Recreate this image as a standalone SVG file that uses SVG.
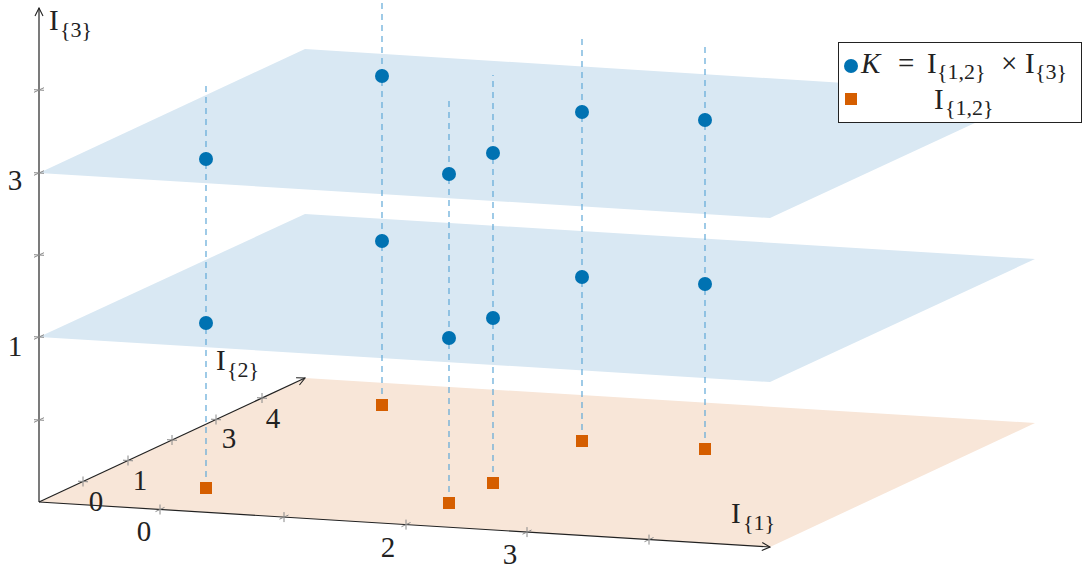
<svg xmlns="http://www.w3.org/2000/svg" width="1083" height="569" viewBox="0 0 1083 569">
<style>
.t{font-family:"Liberation Serif","DejaVu Serif",serif;font-size:29px;fill:#222}
.s{font-size:22px}
.tick{stroke:#888;stroke-width:1;fill:none}
.ax{stroke:#222;stroke-width:1.2;fill:none}
.dash{stroke:#5fa8d8;stroke-width:1.2;stroke-dasharray:6,5;fill:none}
.dot{fill:#0072b2}
.sq{fill:#d55e00}
</style>
<defs>
<marker id="arr" viewBox="0 0 10 10" refX="9" refY="5" markerWidth="10" markerHeight="10" markerUnits="userSpaceOnUse" orient="auto">
<path d="M1,1 L9,5 L1,9" fill="none" stroke="#222" stroke-width="1.1"/>
</marker>
</defs>
<g id="planes">
<polygon points="39,502 305,378 1035,423 770,547" fill="#f8e6d8"/>
<polygon points="39,337 305,214 1035,259 770,382" fill="#d9e8f3"/>
<polygon points="39,173 305,49 1035,95 770,218" fill="#d9e8f3"/>
</g>
<g id="axes">
<line class="ax" x1="39" y1="502" x2="39" y2="8" marker-end="url(#arr)"/>
<line class="ax" x1="39" y1="502" x2="305" y2="378" marker-end="url(#arr)"/>
<line class="ax" x1="39" y1="502" x2="770" y2="547" marker-end="url(#arr)"/>
</g>
<g id="ticks">
<path class="tick" d="M160,504.5v10M155.5,511.6l9,-4.2 M284,512.1v10M279.5,519.2l9,-4.2 M406,519.6v10M401.5,526.7l9,-4.2 M527,527.1v10M522.5,534.2l9,-4.2 M649,534.6v10M644.5,541.7l9,-4.2"/>
<path class="tick" d="M83,476.5v10M78,481.2l10,0.6 M128,455.5v10M123,460.2l10,0.6 M172,435v10M167,439.7l10,0.6 M216,414.5v10M211,419.2l10,0.6 M262,393v10M257,397.7l10,0.6"/>
<path class="tick" d="M34,422.3l10,-4.6M34,419.7l10,0.6 M34,339.3l10,-4.6M34,336.7l10,0.6 M34,257.3l10,-4.6M34,254.7l10,0.6 M34,175.3l10,-4.6M34,172.7l10,0.6 M34,92.3l10,-4.6M34,89.7l10,0.6"/>
</g>
<g id="connectors">
<line class="dash" x1="206" y1="488" x2="206" y2="82"/>
<line class="dash" x1="382" y1="405" x2="382" y2="0"/>
<line class="dash" x1="449" y1="503" x2="449" y2="97"/>
<line class="dash" x1="493" y1="483" x2="493" y2="75"/>
<line class="dash" x1="582" y1="441" x2="582" y2="34"/>
<line class="dash" x1="705" y1="449" x2="705" y2="42"/>
</g>
<g id="points-top">
<circle class="dot" cx="206" cy="159" r="7"/>
<circle class="dot" cx="382" cy="76" r="7"/>
<circle class="dot" cx="449" cy="174" r="7"/>
<circle class="dot" cx="493" cy="153" r="7"/>
<circle class="dot" cx="582" cy="112" r="7"/>
<circle class="dot" cx="705" cy="120" r="7"/>
</g>
<g id="points-mid">
<circle class="dot" cx="206" cy="323" r="7"/>
<circle class="dot" cx="382" cy="241" r="7"/>
<circle class="dot" cx="449" cy="338" r="7"/>
<circle class="dot" cx="493" cy="318" r="7"/>
<circle class="dot" cx="582" cy="277" r="7"/>
<circle class="dot" cx="705" cy="284" r="7"/>
</g>
<g id="points-base">
<rect class="sq" x="200" y="482" width="12" height="12"/>
<rect class="sq" x="376" y="399" width="12" height="12"/>
<rect class="sq" x="443" y="497" width="12" height="12"/>
<rect class="sq" x="487" y="477" width="12" height="12"/>
<rect class="sq" x="576" y="435" width="12" height="12"/>
<rect class="sq" x="699" y="443" width="12" height="12"/>
</g>
<g id="labels">
<text class="t" x="49" y="30">I<tspan class="s" x="60" dy="7">{3}</tspan></text>
<text class="t" x="216" y="370">I<tspan class="s" x="227" dy="7">{2}</tspan></text>
<text class="t" x="731" y="523">I<tspan class="s" x="743" dy="7">{1}</tspan></text>
<text class="t" x="15" y="356" text-anchor="middle">1</text>
<text class="t" x="15" y="190" text-anchor="middle">3</text>
<text class="t" x="96" y="511" text-anchor="middle">0</text>
<text class="t" x="140" y="490" text-anchor="middle">1</text>
<text class="t" x="229" y="448" text-anchor="middle">3</text>
<text class="t" x="273" y="428" text-anchor="middle">4</text>
<text class="t" x="144" y="541" text-anchor="middle">0</text>
<text class="t" x="388" y="557" text-anchor="middle">2</text>
<text class="t" x="510" y="564" text-anchor="middle">3</text>
</g>
<g id="legend">
<rect x="838.5" y="42.5" width="243" height="80" fill="#fff" stroke="#222" stroke-width="1"/>
<circle class="dot" cx="851" cy="66" r="7"/>
<text class="t" x="861" y="73"><tspan font-style="italic">K</tspan><tspan x="898">=</tspan><tspan x="927">I</tspan><tspan class="s" x="937" dy="6">{1,2}</tspan><tspan x="1001" dy="-6">×</tspan><tspan x="1025">I</tspan><tspan class="s" x="1035" dy="6">{3}</tspan></text>
<rect class="sq" x="845" y="93" width="12" height="12"/>
<text class="t" x="934" y="109">I<tspan class="s" x="945" dy="6">{1,2}</tspan></text>
</g>
</svg>
